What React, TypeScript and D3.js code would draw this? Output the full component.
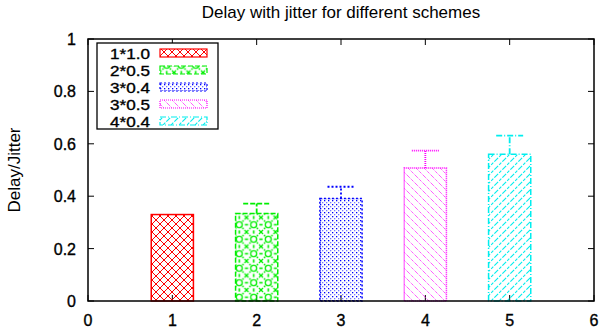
import React, { useEffect, useRef } from "react";
import * as d3 from "d3";

// schemes and their values
const schemes = ["1*1.0", "2*0.5", "3*0.4", "3*0.5", "4*0.4"];
const positions = [1, 2, 3, 4, 5];
const delays = [0.33, 0.334, 0.391, 0.508, 0.56];
const jitterTops = [0.33, 0.372, 0.436, 0.574, 0.631];
const colors = ["#ff0000", "#00ee00", "#0000ff", "#ff00ff", "#00eeee"];
const dashes = ["none", "5,2", "2,2", "1,1", "6,2,1,2"];
const xTicks = [0, 1, 2, 3, 4, 5, 6];
const yTicks = [0, 0.2, 0.4, 0.6, 0.8, 1];

const W = 600;
const H = 331;
const FONT = "Liberation Sans, Arial, Helvetica, sans-serif";

export default function App() {
  const ref = useRef<SVGSVGElement>(null);

  useEffect(() => {
    const svg = d3.select(ref.current);
    svg.selectAll("*").remove();

    const margin = { top: 39, right: 6, bottom: 30, left: 88 };
    const x = d3.scaleLinear().domain([0, 6]).range([margin.left, W - margin.right]);
    const y = d3.scaleLinear().domain([0, 1]).range([H - margin.bottom, margin.top]);

    // fill patterns, one per scheme
    const defs = svg.append("defs");
    const p0 = defs.append("pattern").attr("id", "pat0").attr("patternUnits", "userSpaceOnUse")
      .attr("width", 8).attr("height", 8);
    p0.append("path").attr("d", "M0,0L8,8M8,0L0,8M-1,7L1,9M7,-1L9,1M-1,1L1,-1M7,9L9,7")
      .attr("stroke", colors[0]).attr("stroke-width", 1).attr("fill", "none");

    const p1 = defs.append("pattern").attr("id", "pat1").attr("patternUnits", "userSpaceOnUse")
      .attr("width", 14.5).attr("height", 14.5);
    p1.append("circle").attr("cx", 7.25).attr("cy", 7.25).attr("r", 3)
      .attr("stroke", colors[1]).attr("fill", "none").attr("stroke-width", 1.3);
    p1.append("path").attr("d", "M0,0L2,2M14.5,0L12.5,2M0,14.5L2,12.5M14.5,14.5L12.5,12.5")
      .attr("stroke", colors[1]).attr("stroke-width", 1.3).attr("fill", "none");
    [[7.25, 0.8], [7.25, 13.7], [0.8, 7.25], [13.7, 7.25], [3.5, 3.5], [11, 3.5], [3.5, 11], [11, 11]]
      .forEach(([cx, cy]) => {
        p1.append("rect").attr("x", cx - 0.8).attr("y", cy - 0.8).attr("width", 1.6).attr("height", 1.6)
          .attr("fill", colors[1]);
      });

    const p2 = defs.append("pattern").attr("id", "pat2").attr("patternUnits", "userSpaceOnUse")
      .attr("width", 4).attr("height", 4);
    p2.append("rect").attr("x", 0).attr("y", 0).attr("width", 1.3).attr("height", 1.3).attr("fill", colors[2]);
    p2.append("rect").attr("x", 2).attr("y", 2).attr("width", 1.3).attr("height", 1.3).attr("fill", "#7777ff");

    const p3 = defs.append("pattern").attr("id", "pat3").attr("patternUnits", "userSpaceOnUse")
      .attr("width", 8).attr("height", 8);
    p3.append("path").attr("d", "M0,0L8,8M-4,4L0,8M4,-4L12,4")
      .attr("stroke", colors[3]).attr("stroke-width", 0.9).attr("stroke-dasharray", "1,1").attr("fill", "none");

    const p4 = defs.append("pattern").attr("id", "pat4").attr("patternUnits", "userSpaceOnUse")
      .attr("width", 8).attr("height", 8);
    p4.append("path").attr("d", "M0,8L8,0M-4,4L4,-4M4,12L12,4")
      .attr("stroke", colors[4]).attr("stroke-width", 1.1).attr("stroke-dasharray", "3,1.5").attr("fill", "none");

    // title
    svg.append("text").attr("x", 341).attr("y", 18).attr("text-anchor", "middle")
      .attr("font-family", FONT).attr("font-size", 17)
      .text("Delay with jitter for different schemes");

    // y label
    svg.append("text").attr("transform", `translate(20,${(y(0) + y(1)) / 2}) rotate(-90)`)
      .attr("text-anchor", "middle")
      .attr("font-family", FONT).attr("font-size", 17)
      .text("Delay/Jitter");

    // ticks, mirrored on all sides
    const g = svg.append("g").attr("stroke", "#000").attr("stroke-width", 1);
    yTicks.forEach(t => {
      g.append("line").attr("x1", x(0)).attr("x2", x(0) + 6).attr("y1", y(t)).attr("y2", y(t));
      g.append("line").attr("x1", x(6)).attr("x2", x(6) - 6).attr("y1", y(t)).attr("y2", y(t));
    });
    xTicks.forEach(t => {
      g.append("line").attr("x1", x(t)).attr("x2", x(t)).attr("y1", y(0)).attr("y2", y(0) - 6);
      g.append("line").attr("x1", x(t)).attr("x2", x(t)).attr("y1", y(1)).attr("y2", y(1) + 6);
    });

    svg.append("g").selectAll("text").data(yTicks).join("text")
      .attr("x", x(0) - 12).attr("y", d => y(d) + 6).attr("text-anchor", "end")
      .attr("font-family", FONT).attr("font-size", 16)
      .attr("stroke", "#000").attr("stroke-width", 0.35)
      .text(d => d3.format("")(d));
    svg.append("g").selectAll("text").data(xTicks).join("text")
      .attr("x", d => x(d)).attr("y", y(0) + 25).attr("text-anchor", "middle")
      .attr("font-family", FONT).attr("font-size", 16)
      .attr("stroke", "#000").attr("stroke-width", 0.35)
      .text(d => d);

    // bars with jitter whiskers
    const bw = x(0.25) - x(0);
    const cw = x(0.16) - x(0);
    positions.forEach((p, i) => {
      svg.append("rect").attr("x", x(p) - bw).attr("width", 2 * bw)
        .attr("y", y(delays[i])).attr("height", y(0) - y(delays[i]))
        .attr("fill", `url(#pat${i})`).attr("stroke", colors[i]).attr("stroke-width", 1.5)
        .attr("stroke-dasharray", dashes[i]);
      if (jitterTops[i] > delays[i]) {
        svg.append("path")
          .attr("d", `M${x(p)},${y(delays[i])}V${y(jitterTops[i])}M${x(p) - cw},${y(jitterTops[i])}H${x(p) + cw}`)
          .attr("stroke", colors[i]).attr("stroke-width", 1.8).attr("fill", "none")
          .attr("stroke-dasharray", dashes[i]);
      }
    });

    // frame
    svg.append("rect").attr("x", x(0)).attr("y", y(1)).attr("width", x(6) - x(0)).attr("height", y(0) - y(1))
      .attr("fill", "none").attr("stroke", "#000").attr("stroke-width", 1.5);

    // legend
    const lg = svg.append("g");
    lg.append("rect").attr("x", 97).attr("y", 43).attr("width", 121).attr("height", 86)
      .attr("fill", "#fff").attr("stroke", "#000").attr("stroke-width", 1.3);
    schemes.forEach((s, i) => {
      const cy = 53 + i * 17;
      // slightly widened text so rows don't collide at this spacing
      lg.append("text").attr("transform", `translate(150,${cy + 5.5}) scale(1.18,1)`)
        .attr("text-anchor", "end")
        .attr("font-family", FONT).attr("font-size", 14.5)
        .attr("stroke", "#000").attr("stroke-width", 0.35)
        .text(s);
      lg.append("rect").attr("x", 160).attr("y", cy - 4).attr("width", 47).attr("height", 8)
        .attr("fill", `url(#pat${i})`).attr("stroke", colors[i]).attr("stroke-width", 1.2)
        .attr("stroke-dasharray", dashes[i]);
    });
  }, []);

  return (
    <svg ref={ref} width={W} height={H}
      style={{ position: "absolute", left: 0, top: 0, background: "#fff" }} />
  );
}
